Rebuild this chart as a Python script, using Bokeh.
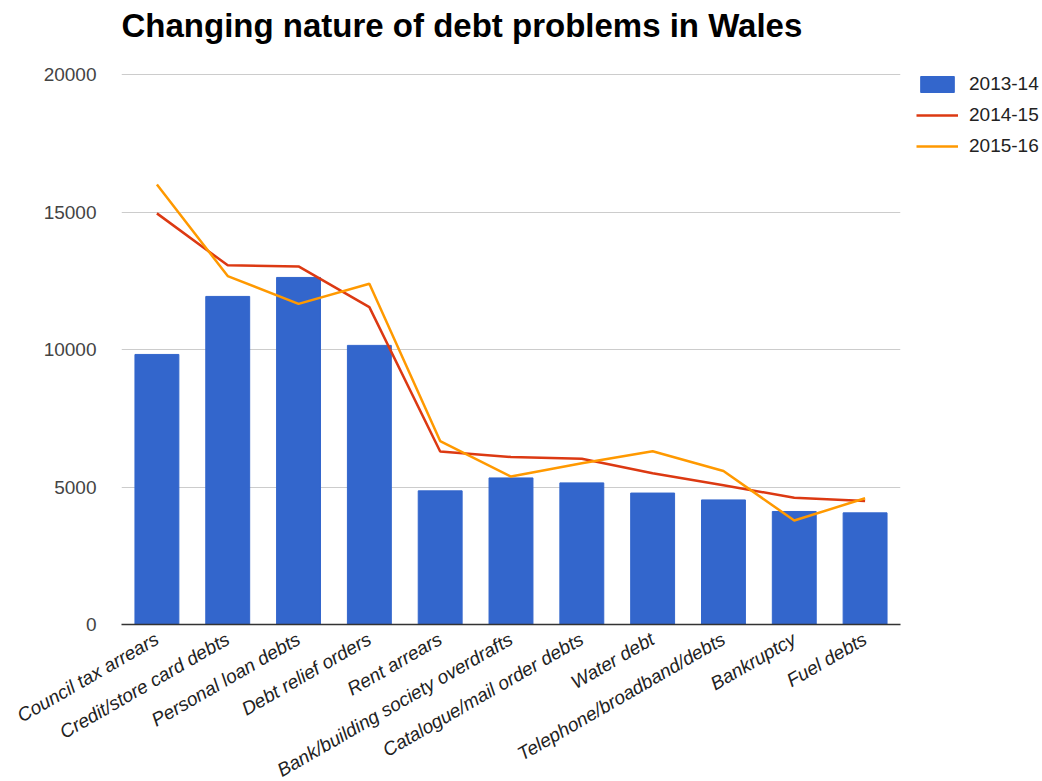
import math
from bokeh.plotting import figure
from bokeh.models import FixedTicker, Legend, LegendItem, Range1d, FactorRange
from bokeh.embed import file_html
from bokeh.resources import INLINE

categories = ["Council tax arrears", "Credit/store card debts", "Personal loan debts",
              "Debt relief orders", "Rent arrears", "Bank/building society overdrafts",
              "Catalogue/mail order debts", "Water debt", "Telephone/broadband/debts",
              "Bankruptcy", "Fuel debts"]
y2013_14 = [9820, 11930, 12620, 10150, 4860, 5330, 5150, 4780, 4530, 4110, 4060]
y2014_15 = [14950, 13060, 13020, 11540, 6290, 6090, 6030, 5500, 5060, 4610, 4490]
y2015_16 = [16000, 12670, 11660, 12390, 6670, 5380, 5860, 6300, 5580, 3780, 4590]
y_ticks = [0, 5000, 10000, 15000, 20000]

FONT = "Liberation Sans"

# layout: 0..20000 spans 550 px; frame extends a little above the top gridline
PLOT_PX = 550
TOP_EXTRA = 24
FRAME_H = PLOT_PX + TOP_EXTRA
Y_END = 20000 * FRAME_H / PLOT_PX

p = figure(x_range=FactorRange(*categories), y_range=Range1d(0, Y_END),
           frame_width=779, frame_height=FRAME_H, output_backend="svg", toolbar_location=None,
           title="Changing nature of debt problems in Wales")
p.min_border_left = 121
p.min_border_right = 130
p.min_border_top = 74 - TOP_EXTRA
p.min_border_bottom = 156
p.outline_line_color = None
p.background_fill_color = "white"

p.title.text_font = FONT
p.title.text_font_size = "33px"
p.title.text_font_style = "bold"
p.title.text_color = "#000000"
p.title.align = "left"
p.title.vertical_align = "top"
p.title.standoff = 10

bars = p.vbar(x=categories, top=y2013_14, width=0.62, fill_color="#3366cc",
              line_color="#3366cc")
l1 = p.line(x=categories, y=y2014_15, line_color="#dc3912", line_width=2.5)
l2 = p.line(x=categories, y=y2015_16, line_color="#ff9900", line_width=2.5)

p.yaxis.ticker = FixedTicker(ticks=y_ticks)
p.yaxis.axis_line_color = None
p.yaxis.major_tick_line_color = None
p.yaxis.minor_tick_line_color = None
p.yaxis.major_label_text_font = FONT
p.yaxis.major_label_text_font_size = "19px"
p.yaxis.major_label_text_color = "#444444"
p.yaxis.major_label_standoff = 19

p.xaxis.axis_line_color = "#333333"
p.xaxis.axis_line_width = 1.5
p.xaxis.major_tick_line_color = None
p.xaxis.minor_tick_line_color = None
p.xaxis.major_label_orientation = math.pi / 6
p.xaxis.major_label_text_font = FONT
p.xaxis.major_label_text_font_size = "19px"
p.xaxis.major_label_text_font_style = "italic"
p.xaxis.major_label_text_color = "#222222"
p.xaxis.major_label_standoff = 7

p.xgrid.grid_line_color = None
p.ygrid.grid_line_color = "#cccccc"
p.ygrid.ticker = FixedTicker(ticks=y_ticks)

legend = Legend(items=[LegendItem(label="2013-14", renderers=[bars]),
                       LegendItem(label="2014-15", renderers=[l1]),
                       LegendItem(label="2015-16", renderers=[l2])],
                location=(16, 467))
legend.margin = 0
legend.padding = 0
legend.border_line_color = None
legend.background_fill_alpha = 0
legend.glyph_width = 42
legend.glyph_height = 20
legend.label_standoff = 11
legend.spacing = 9
legend.label_text_font = FONT
legend.label_text_font_size = "19px"
legend.label_text_color = "#222222"
legend.label_height = 18
p.add_layout(legend, "right")

open("out.html", "w").write(file_html(p, INLINE))
